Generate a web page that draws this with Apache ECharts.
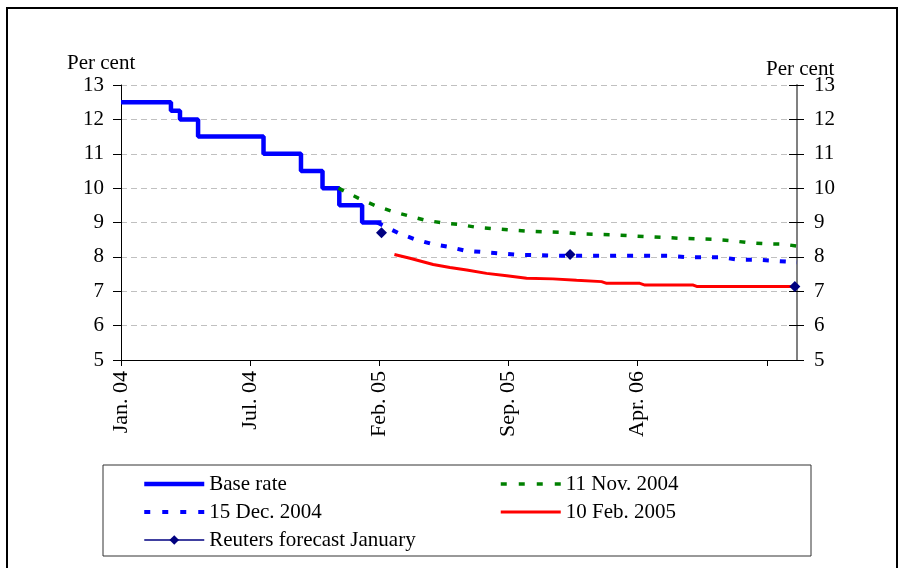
<!DOCTYPE html>
<html>
<head>
<meta charset="utf-8">
<title>Base rate and expected path</title>
<script src="https://cdn.jsdelivr.net/npm/echarts@6.0.0/dist/echarts.min.js"></script>
<style>
  html, body { margin: 0; padding: 0; background: #fff; }
  #chart { width: 904px; height: 568px; }
</style>
</head>
<body>
<div id="chart"></div>
<script>
// x is counted in weeks from 2 Jan. 2004, labels sit every 30 weeks
const tickLabels = ['Jan. 04', 'Jul. 04', 'Feb. 05', 'Sep. 05', 'Apr. 06', '']

// base rate, one point per rate decision (drawn as steps)
const baseRate = [
  [0, 12.5], [11.6, 12.25], [13.7, 12.0], [17.9, 11.5], [33.1, 11.0],
  [41.8, 10.5], [46.8, 10.0], [50.7, 9.5], [56.0, 9.0], [60.5, 9.0]
]

const nov2004 = [
  [50.5, 10.0], [55.1, 9.71], [58.9, 9.5], [62.8, 9.33], [66.9, 9.19],
  [70.8, 9.06], [74.7, 8.99], [78.7, 8.94], [82.6, 8.86], [86.6, 8.82],
  [90.5, 8.78], [94.5, 8.75], [98.5, 8.73], [102.5, 8.71], [106.4, 8.67],
  [114.2, 8.64], [122.1, 8.59], [130.0, 8.54], [137.9, 8.51], [141.9, 8.47],
  [145.8, 8.41], [149.7, 8.38], [154.0, 8.37], [157, 8.31]
]

const dec2004 = [
  [59.5, 9.0], [64.3, 8.7], [68.3, 8.51], [72.1, 8.38], [76.2, 8.29],
  [80.0, 8.18], [84.0, 8.14], [88.0, 8.1], [91.9, 8.06], [103.9, 8.03],
  [127.5, 8.03], [131.4, 7.99], [139.3, 7.99], [143.3, 7.92], [147.2, 7.92],
  [151.2, 7.89], [155.0, 7.86], [157, 7.84]
]

const feb2005 = [
  [63.5, 8.07], [67.1, 7.96], [72.5, 7.78], [76.4, 7.69], [80.3, 7.62],
  [84.9, 7.52], [89.6, 7.45], [94.2, 7.38], [100.3, 7.36], [105.8, 7.32],
  [111.6, 7.28], [112.8, 7.23], [120.5, 7.23], [121.7, 7.18], [132.9, 7.18],
  [133.7, 7.14], [157, 7.14]
]

// '-' leaves a gap so the three forecasts are not joined
const reuters = [[60.5, 8.7], [82, '-'], [104.3, 8.07], [130, '-'], [156.5, 7.14]]

const font = 'Liberation Serif'
const noDot = { opacity: 0 }
const chart = echarts.init(document.getElementById('chart'))

const legendBase = {
  orient: 'vertical',
  top: 473,
  padding: 0,
  itemWidth: 60,
  itemHeight: 12,
  itemGap: 6,
  textStyle: { fontSize: 21, fontFamily: font, color: '#000', lineHeight: 22 }
}

chart.setOption({
  animation: false,
  textStyle: { fontFamily: font, color: '#000' },
  grid: { left: 121, right: 107, top: 85, bottom: 208, outerBoundsMode: 'none' },
  xAxis: {
    type: 'value',
    min: 0,
    max: 157,
    interval: 30,
    axisLine: { lineStyle: { color: '#000', width: 1 } },
    axisTick: { length: 6, lineStyle: { color: '#000' } },
    splitLine: { show: false },
    axisLabel: {
      rotate: 90,
      margin: 11,
      fontSize: 22,
      fontFamily: font,
      color: '#000',
      showMaxLabel: false,
      formatter: function (v) {
        return v % 30 === 0 ? (tickLabels[v / 30] || '') : ''
      }
    }
  },
  yAxis: [
    {
      type: 'value',
      position: 'left',
      min: 5,
      max: 13,
      interval: 1,
      axisLine: { show: true, lineStyle: { color: '#000', width: 1 } },
      axisTick: { show: true, length: 8, lineStyle: { color: '#000' } },
      axisLabel: { margin: 17, fontSize: 21, fontFamily: font, color: '#000' },
      splitLine: { show: true, lineStyle: { color: '#c0c0c0', type: [6, 4], width: 1 } }
    },
    {
      type: 'value',
      position: 'right',
      offset: 0,
      min: 5,
      max: 13,
      interval: 1,
      axisLine: { show: true, lineStyle: { color: '#808080', width: 2 } },
      axisTick: { show: true, length: 7, lineStyle: { color: '#000' } },
      axisLabel: { margin: 17, fontSize: 21, fontFamily: font, color: '#000' },
      splitLine: { show: false }
    },
    {
      // inner half of the right axis ticks
      type: 'value',
      position: 'right',
      offset: 0,
      min: 5,
      max: 13,
      interval: 1,
      axisLine: { show: false },
      axisTick: { show: true, inside: true, length: 8, lineStyle: { color: '#000' } },
      axisLabel: { show: false },
      splitLine: { show: false }
    }
  ],
  legend: [
    Object.assign({}, legendBase, {
      left: 142,
      data: [
        { name: 'Base rate', itemStyle: noDot, lineStyle: { width: 4.5 } },
        { name: '15 Dec. 2004', itemStyle: noDot, lineStyle: { width: 4, type: [6, 12] } },
        { name: 'Reuters forecast January', lineStyle: { width: 1.5 } }
      ]
    }),
    Object.assign({}, legendBase, {
      left: 499,
      data: [
        { name: '11 Nov. 2004', itemStyle: noDot, lineStyle: { width: 3.5, type: [6, 12] } },
        { name: '10 Feb. 2005', itemStyle: noDot, lineStyle: { width: 3 } }
      ]
    })
  ],
  graphic: [
    {
      type: 'rect',
      silent: true,
      shape: { x: 7, y: 8, width: 890, height: 620 },
      style: { fill: null, stroke: '#000', lineWidth: 2 }
    },
    {
      type: 'rect',
      silent: true,
      shape: { x: 103, y: 465, width: 708, height: 91 },
      style: { fill: null, stroke: '#333', lineWidth: 1 }
    },
    {
      type: 'text',
      left: 67,
      top: 53,
      style: { text: 'Per cent', font: '21px "Liberation Serif"', fill: '#000' }
    },
    {
      type: 'text',
      left: 766,
      top: 59,
      style: { text: 'Per cent', font: '21px "Liberation Serif"', fill: '#000' }
    }
  ],
  series: [
    {
      name: 'Base rate',
      type: 'line',
      step: 'end',
      symbol: 'none',
      data: baseRate,
      lineStyle: { color: '#0000ff', width: 4.5 },
      itemStyle: { color: '#0000ff' }
    },
    {
      name: '11 Nov. 2004',
      type: 'line',
      symbol: 'none',
      data: nov2004,
      lineStyle: { color: '#008000', width: 3.5, type: [6, 11] },
      itemStyle: { color: '#008000' }
    },
    {
      name: '15 Dec. 2004',
      type: 'line',
      symbol: 'none',
      data: dec2004,
      lineStyle: { color: '#0000ff', width: 4, type: [6, 11] },
      itemStyle: { color: '#0000ff' }
    },
    {
      name: '10 Feb. 2005',
      type: 'line',
      symbol: 'none',
      data: feb2005,
      lineStyle: { color: '#ff0000', width: 3 },
      itemStyle: { color: '#ff0000' }
    },
    {
      name: 'Reuters forecast January',
      type: 'line',
      symbol: 'diamond',
      symbolSize: 11,
      showSymbol: true,
      connectNulls: false,
      data: reuters,
      lineStyle: { color: '#000080', width: 1.5 },
      itemStyle: { color: '#000080' }
    }
  ]
})
</script>
</body>
</html>
